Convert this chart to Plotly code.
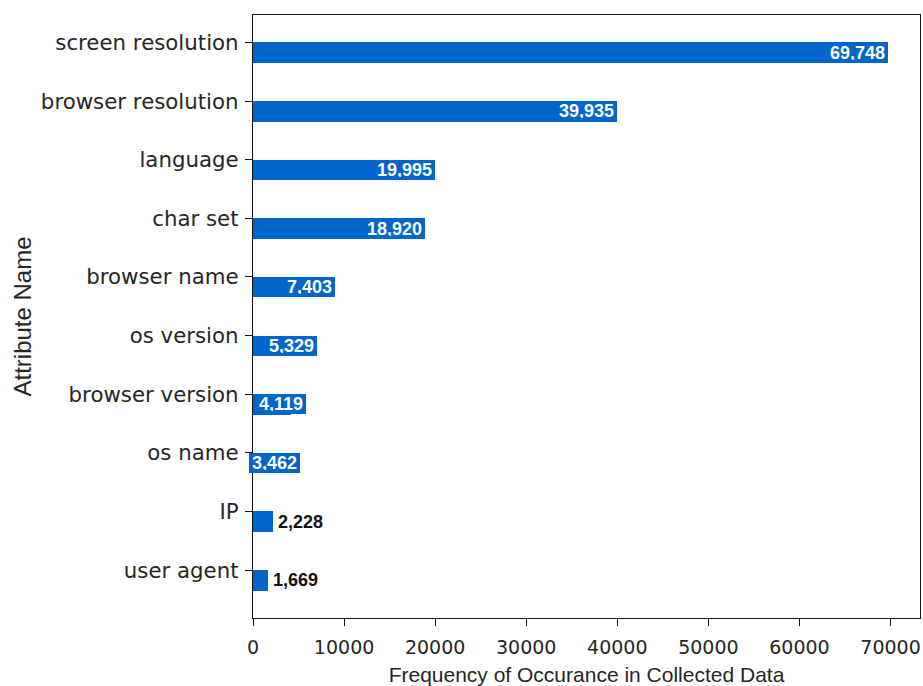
import plotly.graph_objects as go

# Data (top-to-bottom as shown in the chart)
attributes = ["screen resolution", "browser resolution", "language", "char set",
              "browser name", "os version", "browser version", "os name", "IP", "user agent"]
counts = [69748, 39935, 19995, 18920, 7403, 5329, 4119, 3462, 2228, 1669]
x_ticks = [0, 10000, 20000, 30000, 40000, 50000, 60000, 70000]

# bottom-to-top order for a numeric y axis
names = attributes[::-1]
vals = counts[::-1]
pos = list(range(len(names)))

BLUE = "#0066cc"
BAR_H = 0.35

fig = go.Figure()
fig.add_trace(go.Bar(
    y=pos, x=vals, orientation="h",
    width=BAR_H, offset=-BAR_H,
    marker=dict(color=BLUE, line=dict(width=0)),
    hoverinfo="skip",
))

annotations = []
for p, v in zip(pos, vals):
    label = f"{v:,}"
    yc = p - BAR_H / 2
    if v >= 3000:
        annotations.append(dict(
            x=v, y=yc, xref="x", yref="y", text=label, showarrow=False,
            xanchor="right", yanchor="middle",
            xshift=0 if v >= 10000 else 15,
            font=dict(family="Liberation Sans", size=18, color="white", weight="bold"),
            bgcolor=BLUE, borderpad=3, borderwidth=0, height=14,
        ))
    else:
        annotations.append(dict(
            x=v, y=yc, xref="x", yref="y", text=label, showarrow=False,
            xanchor="left", yanchor="middle", xshift=3,
            font=dict(family="Liberation Sans", size=18, color="#111111", weight="bold"),
        ))

max_v = max(vals)
fig.update_layout(
    width=923, height=686,
    margin=dict(l=253, r=3, t=15, b=68),
    plot_bgcolor="white", paper_bgcolor="white",
    showlegend=False,
    annotations=annotations,
    bargap=0,
)
fig.update_xaxes(
    automargin=False,
    range=[0, max_v * 1.05],
    tickvals=x_ticks, tickformat="d",
    ticks="outside", ticklen=7, tickwidth=1.3, tickcolor="#111111",
    showline=True, linecolor="#111111", linewidth=1.3, mirror=True,
    showgrid=False, zeroline=False,
    tickfont=dict(family="DejaVu Sans", size=19, color="#262626"),
    ticklabelstandoff=5,
    title=dict(text="Frequency of Occurance in Collected Data",
               font=dict(family="Liberation Sans", size=21, color="#262626"),
               standoff=16),
)
fig.update_yaxes(
    automargin=False,
    range=[-BAR_H - 0.05 * (len(pos) - 1 + BAR_H), (len(pos) - 1) + 0.05 * (len(pos) - 1 + BAR_H)],
    tickvals=pos, ticktext=names,
    ticks="outside", ticklen=7, tickwidth=1.3, tickcolor="#111111",
    showline=True, linecolor="#111111", linewidth=1.3, mirror=True,
    showgrid=False, zeroline=False,
    tickfont=dict(family="DejaVu Sans", size=21.3, color="#262626"),
    ticklabelstandoff=2,
    title=dict(text="Attribute Name",
               font=dict(family="Liberation Sans", size=24, color="#262626"),
               standoff=2),
)

fig.write_html("out.html",
               config={"displayModeBar": False},
               post_script="document.body.style.margin='0';document.body.style.overflow='hidden';")
